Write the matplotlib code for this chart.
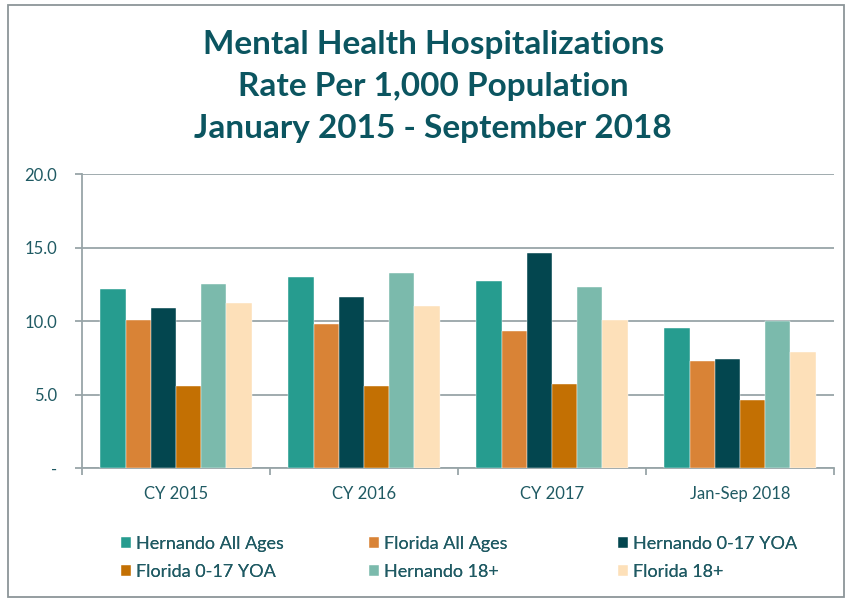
import numpy as np
import matplotlib.pyplot as plt
from matplotlib.patches import Rectangle
from matplotlib.ticker import FixedLocator, FuncFormatter

# Data
categories = ['CY 2015', 'CY 2016', 'CY 2017', 'Jan-Sep 2018']
series_names = ['Hernando All Ages', 'Florida All Ages', 'Hernando 0-17 YOA',
                'Florida 0-17 YOA', 'Hernando 18+', 'Florida 18+']
hernando_all = [12.2, 13.0, 12.7, 9.5]
florida_all = [10.1, 9.8, 9.3, 7.3]
hernando_017 = [10.9, 11.6, 14.6, 7.4]
florida_017 = [5.6, 5.6, 5.7, 4.6]
hernando_18 = [12.5, 13.3, 12.3, 10.0]
florida_18 = [11.2, 11.0, 10.1, 7.9]
yticks = [0, 5, 10, 15, 20]

values = [hernando_all, florida_all, hernando_017, florida_017, hernando_18, florida_18]
colors = ['#269c8f', '#d98336', '#03464f', '#c37003', '#7bbaac', '#fde0b9']
text_col = '#1f5a63'
title_col = '#0b5560'
grid_col = '#98a5a8'

plt.rcParams['font.family'] = ['Lato', 'DejaVu Sans']

fig = plt.figure(figsize=(8.46, 5.98), dpi=100)
ax = fig.add_axes([0.0969, 0.2174, 0.8889, 0.4916])

x = np.arange(len(categories))
bw = 0.134
for i, (vals, c) in enumerate(zip(values, colors)):
    ax.bar(x + (i - 2.5) * bw, vals, bw, color=c, label=series_names[i],
           edgecolor='white', linewidth=0.3, zorder=3)

ax.set_xlim(-0.5, len(categories) - 0.5)
ax.set_ylim(0, 20)
ax.set_yticks(yticks)
ax.yaxis.set_major_formatter(FuncFormatter(lambda v, p: '-' if v == 0 else f'{v:.1f}'))
ax.grid(axis='y', color=grid_col, linewidth=1.3, zorder=0)
ax.set_xticks(x)
ax.set_xticklabels(categories)
ax.xaxis.set_minor_locator(FixedLocator(np.arange(-0.5, len(categories), 1.0)))
ax.tick_params(axis='x', which='major', length=0, pad=13, labelsize=12, colors=text_col)
ax.tick_params(axis='x', which='minor', length=5, width=1.3, color=grid_col)
ax.tick_params(axis='y', length=5, width=1.3, color=grid_col, pad=13,
               labelsize=12, labelcolor=text_col)
for s in ['top', 'right']:
    ax.spines[s].set_visible(False)
for s in ['left', 'bottom']:
    ax.spines[s].set_color(grid_col)
    ax.spines[s].set_linewidth(1.3)

fig.text(0.512, 0.855, 'Mental Health Hospitalizations\nRate Per 1,000 Population\nJanuary 2015 - September 2018',
         ha='center', va='center', fontsize=24, fontweight='bold', color=title_col,
         linespacing=1.54)

# legend: three columns, two rows
handles, labels = ax.get_legend_handles_labels()
col_x = [0.1324, 0.4255, 0.7199]
for k in range(3):
    idx = [k, k + 3]
    leg = fig.legend([handles[j] for j in idx], [labels[j] for j in idx],
                     loc='upper left', bbox_to_anchor=(col_x[k], 0.119),
                     frameon=False, fontsize=13, handlelength=0.55, handleheight=0.55,
                     handletextpad=0.28, labelspacing=0.68, borderpad=0,
                     labelcolor=text_col)
    fig.add_artist(leg)

# outer border of the chart
fig.patches.append(Rectangle((8 / 846, 0.002), 0.988, 0.989, transform=fig.transFigure,
                             fill=False, edgecolor='#8c9598', linewidth=1.3))

fig.savefig('out.png', dpi=100)
